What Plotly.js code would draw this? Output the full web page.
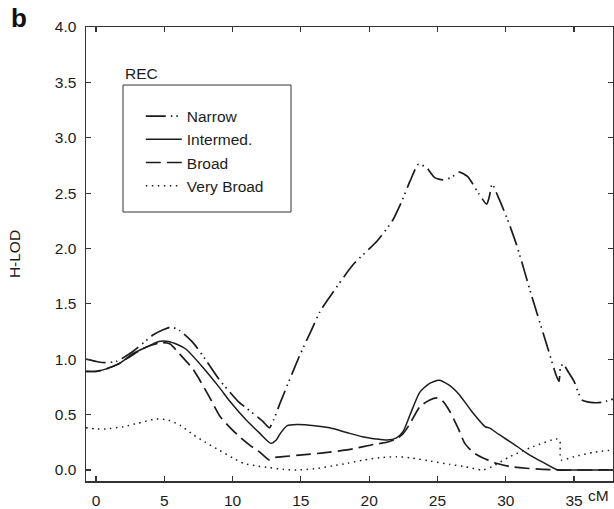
<!DOCTYPE html>
<html>
<head>
<meta charset="utf-8">
<script src="https://cdn.plot.ly/plotly-3.0.1.min.js"></script>
<style>
  html, body { margin: 0; padding: 0; background: #fff; }
  #chart { width: 614px; height: 509px; }
</style>
</head>
<body>
<div id="chart"></div>
<script>
// Map position (cM) and heterogeneity LOD scores, REC model
const narrowX = [-0.73, 0, 0.5, 1.5, 2.7, 3.5, 4.2, 5.0, 5.5, 6.1, 7.1, 8.0, 9.0, 10.4, 11.0, 12.2, 12.7, 13.0, 13.5, 14.9, 15.8, 16.4, 17.1, 18.8, 20.6, 21.7, 22.4, 23.0, 23.6, 24.2, 24.8, 25.4, 26.0, 26.6, 27.2, 28.0, 28.6, 28.8, 29.0, 29.5, 30.1, 30.8, 31.9, 33.1, 33.7, 33.9, 34.0, 34.2, 34.5, 35.0, 35.3, 35.6, 36.2, 37.0, 37.85];
const narrowY = [1.00, 0.98, 0.97, 0.98, 1.07, 1.15, 1.22, 1.27, 1.29, 1.26, 1.15, 1.00, 0.82, 0.62, 0.56, 0.44, 0.38, 0.45, 0.61, 1.03, 1.27, 1.43, 1.56, 1.85, 2.07, 2.25, 2.43, 2.61, 2.76, 2.73, 2.64, 2.62, 2.64, 2.69, 2.65, 2.50, 2.40, 2.47, 2.58, 2.45, 2.27, 2.03, 1.57, 1.09, 0.85, 0.80, 0.92, 0.96, 0.90, 0.80, 0.70, 0.63, 0.61, 0.61, 0.64];

const intermedX = [-0.73, 0, 0.7, 1.7, 2.7, 3.7, 4.6, 5.3, 6.0, 6.6, 7.8, 9.0, 9.8, 11.0, 12.0, 12.8, 13.2, 13.5, 14.0, 14.7, 16.0, 17.1, 18.3, 19.5, 20.5, 21.3, 22.0, 22.5, 23.0, 23.7, 24.4, 25.1, 25.8, 26.6, 27.5, 28.5, 28.8, 29.5, 30.5, 31.5, 32.7, 33.8, 35.0, 36.0, 37.85];
const intermedY = [0.89, 0.89, 0.91, 0.96, 1.05, 1.11, 1.16, 1.16, 1.13, 1.09, 0.93, 0.75, 0.62, 0.45, 0.33, 0.24, 0.27, 0.33, 0.40, 0.41, 0.40, 0.38, 0.34, 0.30, 0.28, 0.27, 0.29, 0.35, 0.50, 0.70, 0.78, 0.81, 0.77, 0.68, 0.53, 0.39, 0.38, 0.32, 0.24, 0.155, 0.07, 0.0, 0.0, 0.0, 0.0];

const broadX = [-0.73, 0, 0.7, 1.7, 2.7, 3.7, 4.8, 5.4, 6.1, 7.1, 8.3, 9.1, 10.0, 10.6, 11.3, 12.0, 12.7, 13.0, 13.7, 15.5, 17.1, 18.8, 20.3, 21.3, 22.0, 22.5, 23.0, 23.7, 24.4, 25.0, 25.4, 25.9, 26.5, 27.0, 27.6, 28.3, 29.3, 30.3, 31.5, 32.7, 33.7, 37.85];
const broadY = [0.89, 0.89, 0.91, 0.96, 1.04, 1.11, 1.15, 1.14, 1.05, 0.91, 0.66, 0.48, 0.36, 0.29, 0.22, 0.16, 0.09, 0.11, 0.12, 0.14, 0.16, 0.19, 0.23, 0.25, 0.28, 0.33, 0.42, 0.57, 0.63, 0.65, 0.62, 0.53, 0.38, 0.24, 0.16, 0.11, 0.06, 0.03, 0.015, 0.005, 0.0, 0.0];

const veryBroadX = [-0.73, 0, 0.7, 2.0, 3.0, 4.4, 5.3, 6.2, 7.1, 8.0, 9.0, 10.0, 10.8, 11.8, 12.7, 13.7, 14.7, 16.0, 17.3, 18.4, 19.6, 20.8, 22.0, 23.0, 24.5, 25.9, 27.0, 28.3, 29.0, 30.3, 32.0, 33.7, 33.95, 34.05, 35.0, 36.5, 37.85];
const veryBroadY = [0.38, 0.37, 0.37, 0.39, 0.42, 0.46, 0.45, 0.40, 0.32, 0.25, 0.18, 0.11, 0.06, 0.035, 0.02, 0.005, 0.0, 0.01, 0.035, 0.06, 0.09, 0.11, 0.12, 0.11, 0.08, 0.05, 0.03, 0.0, 0.03, 0.12, 0.21, 0.28, 0.27, 0.09, 0.12, 0.16, 0.18];

const seriesNames = ['Narrow', 'Intermed.', 'Broad', 'Very Broad'];
const xTicks = [0, 5, 10, 15, 20, 25, 30, 35];
const yTicks = [0.0, 0.5, 1.0, 1.5, 2.0, 2.5, 3.0, 3.5, 4.0];

const ink = '#1c1c1c';
const fontFamily = '"Liberation Sans", Arial, sans-serif';
const textSize = 15.5;

function curve(x, y, name, dash, width) {
  return {
    x: x, y: y, name: name, legendgroup: name,
    type: 'scatter', mode: 'lines',
    line: { color: ink, width: width, dash: dash, shape: 'spline', smoothing: 0.6 },
    hoverinfo: 'x+y+name'
  };
}

const traces = [
  curve(narrowX, narrowY, seriesNames[0], '20px,5px,1.5px,4px,1.5px,5px', 1.7),
  curve(intermedX, intermedY, seriesNames[1], 'solid', 1.5),
  curve(broadX, broadY, seriesNames[2], '15px,6px', 1.7),
  curve(veryBroadX, veryBroadY, seriesNames[3], '1.5px,4.5px', 1.5)
];

const axisCommon = {
  showgrid: false, zeroline: false,
  showline: true, linecolor: '#333', linewidth: 1.5,
  mirror: 'ticks', ticks: 'inside', ticklen: 5, tickwidth: 1.2, tickcolor: '#333',
  tickfont: { family: fontFamily, size: textSize, color: ink }
};

const layout = {
  width: 614, height: 509,
  margin: { l: 86, r: 1, t: 27, b: 28, pad: 0 },
  paper_bgcolor: '#fff', plot_bgcolor: '#fff',
  font: { family: fontFamily, size: textSize, color: ink },
  xaxis: Object.assign({}, axisCommon, {
    range: [-0.73, 37.85], tickvals: xTicks, ticklabelstandoff: 5
  }),
  yaxis: Object.assign({}, axisCommon, {
    range: [-0.1, 4.0], tickvals: yTicks, tickformat: '.1f', ticklabelstandoff: 5,
    title: { text: 'H-LOD', standoff: 30, font: { family: fontFamily, size: textSize, color: ink } }
  }),
  showlegend: true,
  legend: {
    x: 0.104, y: 0.84, xanchor: 'left', yanchor: 'top',
    bgcolor: 'rgba(0,0,0,0)', borderwidth: 0,
    font: { family: fontFamily, size: textSize, color: ink },
    tracegroupgap: 2, itemwidth: 36, traceorder: 'normal'
  },
  shapes: [{
    type: 'rect', xref: 'paper', yref: 'paper',
    x0: 0.0702, x1: 0.389, y0: 0.5925, y1: 0.8722,
    line: { color: '#333', width: 1 }, fillcolor: 'rgba(0,0,0,0)'
  }],
  annotations: [
    { text: 'REC', xref: 'paper', yref: 'paper', x: 0.0702, y: 0.8965,
      xanchor: 'left', yanchor: 'middle', showarrow: false,
      font: { family: fontFamily, size: textSize, color: ink } },
    { text: 'cM', xref: 'paper', yref: 'paper', x: 0.972, y: -0.033,
      xanchor: 'center', yanchor: 'middle', showarrow: false,
      font: { family: fontFamily, size: textSize, color: ink } },
    { text: '<b>b</b>', xref: 'paper', yref: 'paper', x: -0.128, y: 1.057,
      xanchor: 'center', yanchor: 'top', showarrow: false,
      font: { family: fontFamily, size: 26, color: '#111' } }
  ]
};

Plotly.newPlot('chart', traces, layout, { displayModeBar: false, staticPlot: true });
</script>
</body>
</html>
